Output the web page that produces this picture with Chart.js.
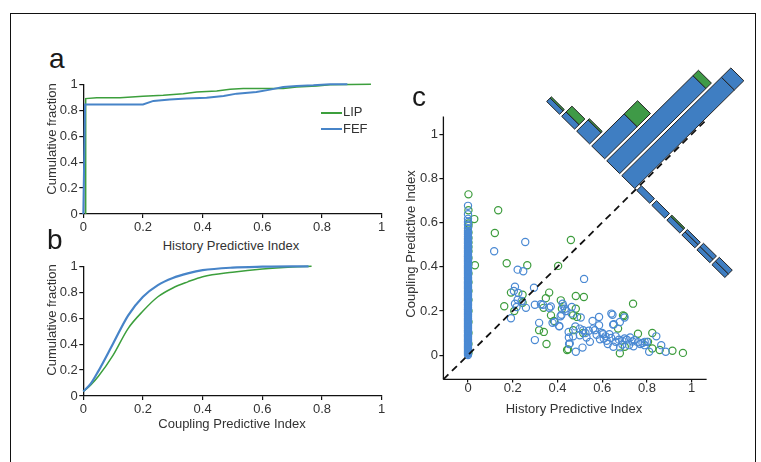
<!DOCTYPE html>
<html>
<head>
<meta charset="utf-8">
<script src="https://cdn.jsdelivr.net/npm/chart.js@4.4.1/dist/chart.umd.min.js"></script>
<style>
  html, body { margin: 0; padding: 0; background: #fff; }
  body { width: 761px; height: 462px; position: relative; overflow: hidden; font-family: "Liberation Sans", Arial, sans-serif; color: #333; }
  .frame { position: absolute; left: 10px; top: 13px; width: 744px; height: 480px; border: 1px solid #111; border-bottom: none; }
  canvas { position: absolute; }
  .tag { position: absolute; font-size: 28px; line-height: 28px; color: #1a1a1a; }
  .ttl { position: absolute; font-size: 13px; line-height: 15px; white-space: nowrap; transform: translate(-50%, -50%); }
  .ttl.v { transform: translate(-50%, -50%) rotate(-90deg); }
  .key { position: absolute; font-size: 13px; line-height: 15px; }
  .swatch { position: absolute; width: 21px; height: 2px; }
</style>
</head>
<body>
<div class="frame"></div>

<canvas id="panelA" width="370" height="160" style="left:20px; top:75px;"></canvas>
<canvas id="panelB" width="370" height="160" style="left:20px; top:257px;"></canvas>
<canvas id="panelC" width="375" height="400" style="left:380px; top:50px;"></canvas>

<div class="tag" style="left:49px; top:45px;">a</div>
<div class="tag" style="left:47px; top:226px;">b</div>
<div class="tag" style="left:412px; top:83px;">c</div>

<div class="ttl v" style="left:51px; top:139px;">Cumulative fraction</div>
<div class="ttl" style="left:231px; top:245px;">History Predictive Index</div>
<div class="ttl v" style="left:51px; top:320px;">Cumulative fraction</div>
<div class="ttl" style="left:232px; top:423px;">Coupling Predictive Index</div>
<div class="ttl v" style="left:410px; top:244px;">Coupling Predictive Index</div>
<div class="ttl" style="left:574px; top:408px;">History Predictive Index</div>

<div class="swatch" style="left:321px; top:112px; background:#3c9f3c;"></div>
<div class="key" style="left:343px; top:104px;">LIP</div>
<div class="swatch" style="left:321px; top:128px; background:#4784c8;"></div>
<div class="key" style="left:343px; top:121px;">FEF</div>

<script>
// ---- panel a: cumulative fraction of history predictive index
const lipHistX = [0.008, 0.008, 0.045, 0.123, 0.2, 0.268, 0.335, 0.38, 0.447, 0.492, 0.536, 0.603, 0.67, 0.715, 0.782, 0.827, 0.964];
const lipHistY = [0, 0.89, 0.897, 0.897, 0.908, 0.915, 0.928, 0.941, 0.949, 0.962, 0.967, 0.967, 0.967, 0.979, 0.987, 0.997, 1];
const fefHistX = [0, 0.006, 0.2, 0.235, 0.29, 0.346, 0.413, 0.47, 0.514, 0.58, 0.626, 0.67, 0.715, 0.771, 0.827, 0.885];
const fefHistY = [0, 0.844, 0.844, 0.872, 0.882, 0.89, 0.897, 0.91, 0.928, 0.941, 0.959, 0.979, 0.987, 0.992, 1, 1];

// ---- panel b: cumulative fraction of coupling predictive index
const lipCoupX = [0, 0.025, 0.05, 0.1, 0.15, 0.2, 0.25, 0.3, 0.35, 0.4, 0.5, 0.6, 0.7, 0.765];
const lipCoupY = [0.035, 0.085, 0.15, 0.315, 0.52, 0.655, 0.765, 0.833, 0.88, 0.92, 0.955, 0.98, 0.995, 1];
const fefCoupX = [0, 0.025, 0.05, 0.1, 0.15, 0.2, 0.25, 0.3, 0.35, 0.4, 0.5, 0.6, 0.7, 0.755];
const fefCoupY = [0.035, 0.095, 0.19, 0.405, 0.62, 0.765, 0.855, 0.91, 0.945, 0.97, 0.99, 0.997, 1, 1];

const cdfTicks = [0, 0.2, 0.4, 0.6, 0.8, 1];

// ---- panel c: coupling vs history, per neuron
const fefHistory = [0.117, 0.256, 0.222, 0.247, 0.519, 0.21, 0.295, 0.205, 0.225, 0.222, 0.24, 0.21, 0.299, 0.326, 0.217, 0.259, 0.363, 0.37, 0.423, 0.426,
  0.464, 0.463, 0.504, 0.378, 0.414, 0.192, 0.318, 0.408, 0.45, 0.515, 0.5, 0.53, 0.557, 0.586, 0.567, 0.56, 0.545, 0.512, 0.482, 0.455,
  0.451, 0.299, 0.641, 0.679, 0.652, 0.7, 0.646, 0.649, 0.586, 0.604, 0.615, 0.607, 0.62, 0.632, 0.64, 0.66, 0.675, 0.69, 0.7, 0.71,
  0.725, 0.735, 0.745, 0.76, 0.77, 0.78, 0.79, 0.8, 0.842, 0.864, 0.884, 0.81, 0.79, 0.65, 0.68, 0.72, 0.74, 0.625, 0.59, 0.575,
  0.54, 0.525, 0.5, 0.48, 0.6, 0.66, 0.69, 0.418, 0.388, 0.408, 0.433, 0.44, 0.452, 0.47, 0.335];
const fefCoupling = [0.47, 0.512, 0.387, 0.38, 0.345, 0.31, 0.305, 0.29, 0.281, 0.251, 0.245, 0.233, 0.228, 0.23, 0.218, 0.214, 0.214, 0.22, 0.233, 0.222,
  0.218, 0.188, 0.17, 0.146, 0.176, 0.167, 0.146, 0.13, 0.105, 0.113, 0.09, 0.08, 0.155, 0.173, 0.113, 0.12, 0.06, 0.034, 0.015, 0.053,
  0.08, 0.068, 0.188, 0.15, 0.14, 0.17, 0.183, 0.138, 0.135, 0.095, 0.085, 0.075, 0.065, 0.095, 0.078, 0.085, 0.07, 0.065, 0.075, 0.07,
  0.08, 0.062, 0.068, 0.058, 0.05, 0.055, 0.045, 0.06, 0.085, 0.045, 0.015, 0.015, 0.06, 0.038, 0.035, 0.045, 0.04, 0.05, 0.072, 0.092,
  0.11, 0.1, 0.12, 0.13, 0.1, 0.06, 0.048, 0.183, 0.15, 0.132, 0.21, 0.2, 0.05, 0.085, 0.228];
const fefZeroCoupling = [0, 0.006, 0.012, 0.017, 0.023, 0.03, 0.036, 0.041, 0.047, 0.054, 0.06, 0.065, 0.071, 0.078, 0.084, 0.089, 0.095, 0.102, 0.108, 0.113,
  0.119, 0.126, 0.132, 0.137, 0.143, 0.15, 0.156, 0.161, 0.167, 0.174, 0.18, 0.185, 0.191, 0.198, 0.204, 0.209, 0.215, 0.222, 0.228, 0.233,
  0.239, 0.246, 0.252, 0.257, 0.263, 0.27, 0.276, 0.281, 0.287, 0.294, 0.3, 0.305, 0.311, 0.318, 0.324, 0.329, 0.335, 0.342, 0.348, 0.353,
  0.359, 0.366, 0.372, 0.377, 0.383, 0.39, 0.396, 0.401, 0.407, 0.414, 0.42, 0.425, 0.431, 0.438, 0.444, 0.449, 0.455, 0.462, 0.468, 0.475,
  0.483, 0.49, 0.497, 0.505, 0.512, 0.521, 0.528, 0.536, 0.545, 0.553, 0.562, 0.575, 0.59, 0.603, 0.617, 0.638, 0.676];

const lipHistory = [0.028, 0.135, 0.12, 0.46, 0.031, 0.173, 0.265, 0.403, 0.192, 0.244, 0.363, 0.348, 0.482, 0.518, 0.244, 0.162, 0.338, 0.42, 0.482, 0.47,
  0.488, 0.371, 0.384, 0.207, 0.318, 0.339, 0.47, 0.515, 0.448, 0.351, 0.415, 0.698, 0.738, 0.671, 0.76, 0.824, 0.805, 0.701, 0.679, 0.857,
  0.914, 0.961, 0.824, 0.693, 0.443];
const lipCoupling = [0.616, 0.656, 0.553, 0.521, 0.407, 0.416, 0.407, 0.404, 0.283, 0.273, 0.283, 0.258, 0.268, 0.263, 0.237, 0.221, 0.214, 0.21, 0.21, 0.18,
  0.173, 0.18, 0.155, 0.2, 0.113, 0.105, 0.113, 0.1, 0.026, 0.05, 0.248, 0.177, 0.233, 0.12, 0.097, 0.1, 0.06, 0.038, 0.008, 0.023,
  0.02, 0.01, 0.03, 0.18, 0.023];
const lipZeroCoupling = [0.728, 0.656, 0.596, 0.585, 0.555, 0.53, 0.51, 0.49, 0.47, 0.44, 0.41, 0.37, 0.33, 0.29, 0.25, 0.2, 0.15, 0.1, 0.05, 0.01];

const scatterTicks = [0, 0.2, 0.4, 0.6, 0.8, 1];

// histogram of distance from the diagonal (bins along the anti-diagonal, + = above diagonal)
const histBinCentres = [-0.5225, -0.4275, -0.3325, -0.2375, -0.1425, -0.0475, 0.0475, 0.1425, 0.2375, 0.3325, 0.4275, 0.5225];
const histFefInner = [0.022, 0.02, 0.02, 0.024, 0.03, 0.03, 0.63, 0.545, 0.205, 0.072, 0.028, 0.022];
const histLip = [0, 0, 0, 0.008, 0, 0, 0, 0.035, 0.085, 0.008, 0.037, 0.008];
const histFefOuter = [0.025, 0.022, 0.015, 0, 0, 0, 0.06, 0, 0, 0, 0, 0];

// ---- shared style
const lipLine = "#3c9f3c";
const fefLine = "#4784c8";
const lipDot = "#3d9c3d";
const fefDot = "#4a89d3";
const histBlue = "#3f7ec2";
const histGreen = "#3f9a47";
const axisColor = "#111";

Chart.defaults.font.family = '"Liberation Sans", Arial, sans-serif';
Chart.defaults.font.size = 13;
Chart.defaults.color = "#333";
Chart.defaults.animation = false;
Chart.defaults.plugins.legend.display = false;
Chart.defaults.plugins.tooltip.enabled = false;

function zip(xs, ys) {
    return xs.map((x, i) => ({ x: x, y: ys[i] }));
}

function tickText(v) {
    return String(+Number(v).toFixed(1));
}

function fixedTicks(list) {
    return (scale) => { scale.ticks = list.map((v) => ({ value: v })); };
}

function cdfScales() {
    return {
        x: {
            type: "linear", min: 0, max: 1,
            afterBuildTicks: fixedTicks(cdfTicks),
            afterFit: (s) => { s.height = 21; },
            ticks: { padding: 2, maxRotation: 0, autoSkip: false, callback: tickText },
            grid: { drawOnChartArea: false, tickLength: 4, color: axisColor, lineWidth: 1.2 },
            border: { color: axisColor, width: 1.3 },
        },
        y: {
            type: "linear", min: 0, max: 1,
            afterBuildTicks: fixedTicks(cdfTicks),
            afterFit: (s) => { s.width = 50; },
            ticks: { padding: 1.5, autoSkip: false, callback: tickText },
            grid: { drawOnChartArea: false, tickLength: 4, color: axisColor, lineWidth: 1.2 },
            border: { color: axisColor, width: 1.3 },
        },
    };
}

function cdfLine(xs, ys, color, width, smooth) {
    return {
        type: "line",
        data: zip(xs, ys),
        borderColor: color,
        borderWidth: width,
        pointRadius: 0,
        fill: false,
        clip: false,
        tension: 0,
        cubicInterpolationMode: smooth ? "monotone" : "default",
    };
}

new Chart(document.getElementById("panelA"), {
    type: "scatter",
    data: {
        datasets: [
            cdfLine(fefHistX, fefHistY, fefLine, 2, false),
            cdfLine(lipHistX, lipHistY, lipLine, 1.5, false),
        ],
    },
    options: {
        responsive: false, maintainAspectRatio: false, devicePixelRatio: 1,
        layout: { padding: { left: 13.3, right: 8.3, top: 9, bottom: 0 } },
        scales: cdfScales(),
    },
});

new Chart(document.getElementById("panelB"), {
    type: "scatter",
    data: {
        datasets: [
            cdfLine(fefCoupX, fefCoupY, fefLine, 2.2, true),
            cdfLine(lipCoupX, lipCoupY, lipLine, 1.5, true),
        ],
    },
    options: {
        responsive: false, maintainAspectRatio: false, devicePixelRatio: 1,
        layout: { padding: { left: 13.3, right: 8.3, top: 9, bottom: 0 } },
        scales: cdfScales(),
    },
});

// ---- panel c
const axisLow = -0.11;
const xAxisEnd = 1.067;
const yAxisEnd = 1.081;
const diagEnd = 1.07;
const diagCross = 0.75;   // where the histogram base crosses the diagonal
const binHalf = 0.041;

function histPoint(s, h) {
    const r = Math.SQRT1_2;
    return { x: diagCross - s * r + h * r, y: diagCross + s * r + h * r };
}

function histDatasets() {
    const out = [];
    histBinCentres.forEach((s, i) => {
        const parts = [[histFefInner[i], histBlue], [histLip[i], histGreen], [histFefOuter[i], histBlue]];
        let base = 0;
        parts.forEach(([len, color]) => {
            if (len <= 0) return;
            const top = base + len;
            out.push({
                type: "line",
                data: [histPoint(s - binHalf, base), histPoint(s + binHalf, base), histPoint(s + binHalf, top),
                       histPoint(s - binHalf, top), histPoint(s - binHalf, base)],
                borderColor: "#222",
                borderWidth: 1,
                backgroundColor: color,
                fill: "shape",
                pointRadius: 0,
                tension: 0,
                clip: false,
                order: 0,
            });
            base = top;
        });
    });
    return out;
}

// where the circles pile up densely they merge into a solid band
function crowdedFill(values, color) {
    return (ctx) => {
        const i = ctx.dataIndex;
        const v = values[i];
        const prev = i > 0 ? Math.abs(v - values[i - 1]) : 1;
        const next = i < values.length - 1 ? Math.abs(values[i + 1] - v) : 1;
        return Math.max(prev, next) < 0.01 ? color : "rgba(0,0,0,0)";
    };
}

function dots(xs, ys, color, order, fill) {
    return {
        type: "scatter",
        data: zip(xs, ys),
        pointRadius: 3.6,
        pointBorderWidth: 1.2,
        pointBorderColor: color,
        pointBackgroundColor: fill || "rgba(0,0,0,0)",
        clip: false,
        order: order,
    };
}

function plainLine(points, dash, width, order) {
    return {
        type: "line",
        data: points,
        borderColor: axisColor,
        borderWidth: width,
        borderDash: dash,
        pointRadius: 0,
        fill: false,
        tension: 0,
        clip: false,
        order: order,
    };
}

new Chart(document.getElementById("panelC"), {
    type: "scatter",
    data: {
        datasets: [
            ...histDatasets(),
            plainLine([{ x: axisLow, y: axisLow }, { x: diagEnd, y: diagEnd }], [7, 5], 1.8, 1),
            dots(fefZeroCoupling.map(() => 0), fefZeroCoupling, fefDot, 2, crowdedFill(fefZeroCoupling, fefDot)),
            dots(fefHistory, fefCoupling, fefDot, 2),
            dots(lipZeroCoupling.map(() => 0.002), lipZeroCoupling, lipDot, 3),
            dots(lipHistory, lipCoupling, lipDot, 3),
            plainLine([{ x: axisLow, y: axisLow }, { x: xAxisEnd, y: axisLow }], [], 1.3, 4),
            plainLine([{ x: axisLow, y: axisLow }, { x: axisLow, y: yAxisEnd }], [], 1.3, 4),
        ],
    },
    options: {
        responsive: false, maintainAspectRatio: false, devicePixelRatio: 1,
        layout: { padding: { left: 3.4, right: 4.8, top: 7.5, bottom: 30.6 } },
        scales: {
            x: {
                type: "linear", min: axisLow, max: 1.26,
                afterBuildTicks: fixedTicks(scatterTicks),
                afterFit: (s) => { s.height = 40; },
                ticks: { padding: -2, maxRotation: 0, autoSkip: false, callback: tickText },
                grid: { drawOnChartArea: false, tickLength: 3, color: axisColor, lineWidth: 1.2 },
                border: { display: false },
            },
            y: {
                type: "linear", min: axisLow, max: 1.34,
                afterBuildTicks: fixedTicks(scatterTicks),
                afterFit: (s) => { s.width = 60; },
                ticks: { padding: 1.4, autoSkip: false, callback: tickText },
                grid: { drawOnChartArea: false, tickLength: 4, color: axisColor, lineWidth: 1.2 },
                border: { display: false },
            },
        },
    },
});
</script>
</body>
</html>
